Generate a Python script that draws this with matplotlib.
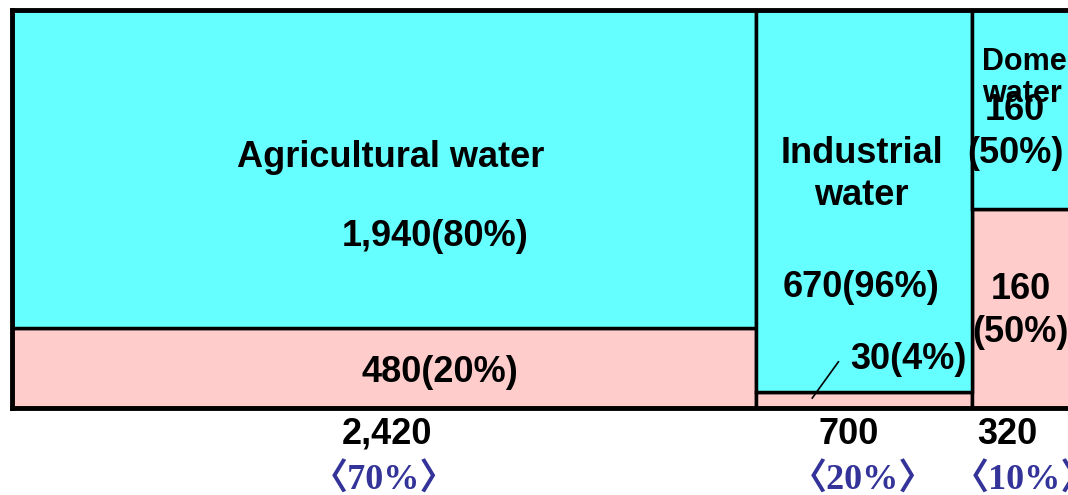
import numpy as np
import matplotlib
matplotlib.use('Agg')
from matplotlib import pyplot as plt

categories = ['Agricultural water', 'Industrial\nwater', 'Domestic\nwater']
totals = [2420, 700, 320]
total_share = [70, 20, 10]
upper_vals = [1940, 670, 160]
upper_pct = [80, 96, 50]
lower_vals = [480, 30, 160]
lower_pct = [20, 4, 50]

cyan = '#66FFFF'
pink = '#FFCCCC'
blue = '#333399'

plt.rcParams['font.family'] = ['Liberation Sans', 'DejaVu Sans']
fig = plt.figure(figsize=(10.68, 4.95), dpi=100)
# right border of the last column falls just past the figure edge
ax = fig.add_axes([12/1068, 87/495, 1058/1068, 398/495])

lefts = np.concatenate([[0], np.cumsum(totals)[:-1]])
ax.bar(lefts, lower_pct, width=totals, align='edge', color=pink, edgecolor='black', linewidth=2.5)
ax.bar(lefts, upper_pct, width=totals, bottom=lower_pct, align='edge', color=cyan, edgecolor='black', linewidth=2.5)
ax.set_xlim(0, sum(totals))
ax.set_ylim(0, 100)
ax.set_xticks([]), ax.set_yticks([])
for s in ax.spines.values():
    s.set_linewidth(3.5)

fs = 26
kw = dict(fontsize=fs, fontweight='bold', ha='center', va='center')
# agricultural
ax.text(1230, 63.0, categories[0], **kw)
ax.text(1376, 43, f'{upper_vals[0]:,}({upper_pct[0]}%)', **kw)
ax.text(1392, 9.0, f'{lower_vals[0]:,}({lower_pct[0]}%)', **kw)
# industrial
ax.text(2762, 58.6, categories[1], linespacing=1.25, **kw)
ax.text(2762, 30.4, f'{upper_vals[1]:,}({upper_pct[1]}%)', **kw)
ax.text(2914, 12.1, f'{lower_vals[1]:,}({lower_pct[1]}%)', **kw)
ax.plot([2602, 2687], [2.5, 11.6], color='black', lw=1.2)
# domestic
ax.text(3155, 82.9, categories[2], fontsize=22, fontweight='bold', ha='left', va='center',
        linespacing=1.1, clip_on=False)
ax.text(3262, 69.3, f'{upper_vals[2]:,}\n({upper_pct[2]}%)', linespacing=1.3, **kw)
ax.text(3279, 24.3, f'{lower_vals[2]:,}\n({lower_pct[2]}%)', linespacing=1.3, **kw)

# totals under columns
tot_x = [1220, 2719, 3236]
share_x = [1210, 2768, 3292]
for tx, sx, t, p in zip(tot_x, share_x, totals, total_share):
    ax.text(tx, -6.6, f'{t:,}', clip_on=False, **kw)
    ax.text(sx, -18.2, f'\u3008{p}%\u3009', fontsize=fs, fontweight='bold', ha='center', va='center',
            color=blue, family=['Liberation Serif', 'Noto Sans CJK JP'], clip_on=False)

fig.savefig('out.png', dpi=100)
